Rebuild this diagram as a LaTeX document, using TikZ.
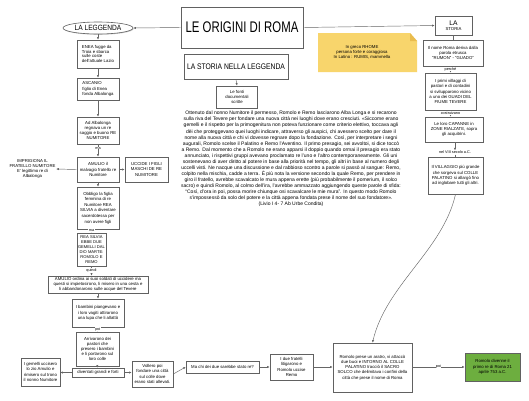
\documentclass[tikz,border=0pt]{standalone}
\usepackage{fontspec}
\setmainfont{Liberation Sans}
\usetikzlibrary{arrows.meta,shapes.geometric,shadows}
\newcommand\fsm{\fontsize{4.3}{5.2}\selectfont}
\newcommand\flb{\fontsize{3.8}{4.2}\selectfont}
\newcommand\flv{\fontsize{5.0}{6.07}\selectfont}
\definecolor{notey}{HTML}{F8D56C}
\definecolor{notefold}{HTML}{E9BC4E}
\definecolor{greenbox}{HTML}{6DAE3F}
\begin{document}
\begin{tikzpicture}[x=1pt,y=-1pt,
  bx/.style={draw=black!62, line width=0.6pt, fill=white, align=center, font=\fsm, inner sep=0.8pt,
    drop shadow={shadow xshift=0.7pt, shadow yshift=-0.7pt, fill=black!22, opacity=1}},
  sz/.style 2 args={minimum width=#1pt, minimum height=#2pt},
  conn/.style={draw=black!60, line width=0.45pt},
  arr/.style={conn, -{Latex[length=2.6pt,width=2.2pt]}},
  lbl/.style={fill=white, font=\flb, inner sep=0.4pt},
]
\fill[white] (0,0) rectangle (529,400);
\useasboundingbox (0,0) rectangle (529,400);

% ---------- top ----------
\node[bx, sz={122}{41}] (title) at (242,27.5) {\fontsize{11.4}{12}\selectfont\scalebox{1}[1.35]{LE ORIGINI DI ROMA}};
\node[bx, ellipse, sz={70}{12}, inner sep=0pt] (leg) at (98,28) {\fontsize{6.6}{7}\selectfont\scalebox{1}[1.15]{LA LEGGENDA}};
\node[bx, sz={37}{19}] (storia) at (453.5,25.5) {\fontsize{6.7}{7.6}\selectfont LA\\STORIA};
\draw[arr] (title.west) -- (leg.east);
\draw[arr] (title.east) -- (storia.west);

% ---------- note ----------
\fill[notey] (318,33) -- (410,33) -- (417,41) -- (417,72) -- (318,72) -- cycle;
\fill[notefold] (410,33) -- (410,41) -- (417,41) -- cycle;
\node[align=center, font=\fsm] (note) at (362,52) {In greco RHOME\\persona forte e coraggiosa\\In Latino : RUMIS, mammella};

% ---------- centre ----------
\node[bx, sz={104}{25}] (storleg) at (236,66.5) {\fontsize{6.75}{7}\selectfont\scalebox{1}[1.2]{LA STORIA NELLA LEGGENDA}};
\node[bx, sz={41}{22}] (fonti) at (237,97) {Le fonti\\documentali\\scritte};
\draw[arr] (storleg.south) -- (fonti.north);

\node[align=center, font=\flv, anchor=north, inner sep=0pt] (livio) at (291,111) {%
Ottenuto dal nonno Numitore il permesso, Romolo e Remo lasciarono Alba Longa e si recarono\\
sulla riva del Tevere per fondare una nuova città nei luoghi dove erano cresciuti. «Siccome erano\\
gemelli e il rispetto per la primogenitura non poteva funzionare come criterio elettivo, toccava agli\\
dèi che proteggevano quei luoghi indicare, attraverso gli auspici, chi avessero scelto per dare il\\
nome alla nuova città e chi vi dovesse regnare dopo la fondazione. Così, per interpretare i segni\\
augurali, Romolo scelse il Palatino e Remo l'Aventino. Il primo presagio, sei avvoltoi, si dice toccò\\
a Remo. Dal momento che a Romolo ne erano apparsi il doppio quando ormai il presagio era stato\\
annunciato, i rispettivi gruppi avevano proclamato re l'uno e l'altro contemporaneamente. Gli uni\\
sostenevano di aver diritto al potere in base alla priorità nel tempo, gli altri in base al numero degli\\
uccelli visti. Ne nacque una discussione e dal rabbioso scontro a parole si passò al sangue: Remo,\\
colpito nella mischia, cadde a terra. È più nota la versione secondo la quale Remo, per prendere in\\
giro il fratello, avrebbe scavalcato le mura appena erette (più probabilmente il pomerium, il solco\\
sacro) e quindi Romolo, al colmo dell'ira, l'avrebbe ammazzato aggiungendo queste parole di sfida:\\
“Così, d'ora in poi, possa morire chiunque osi scavalcare le mie mura”. In questo modo Romolo\\
s'impossessò da solo del potere e la città appena fondata prese il nome del suo fondatore».\\
(Livio I 4- 7 Ab Urbe Condita)};

% ---------- left column ----------
\node[bx, sz={42}{28}, align=left, font=\fontsize{4.3}{4.8}\selectfont] (enea) at (98,54) {ENEA fugge da\\Troia e sbarca\\sulle coste\\dell'attuale Lazio};
\node[bx, sz={42}{22}, align=left] (ascanio) at (98,89) {ASCANIO\\figlio di Enea\\fonda Albalonga};
\node[bx, sz={42}{27}] (alba) at (98,130.5) {Ad Albalonga\\regnava un re\\saggio e buono RE\\NUMITORE};
\node[bx, sz={42}{25}] (amulio) at (98,169.5) {AMULIO il\\malvagio fratello re\\Numitore};
\node[align=center, font=\fsm, inner sep=0.5pt] (imprig) at (32.5,169) {IMPRIGIONA IL\\FRATELLO NUMITORE\\E' legittimo re di\\Albalonga};
\node[bx, sz={43}{25}] (uccide) at (146.5,169.5) {UCCIDE I FIGLI\\MASCHI DE RE\\NUMITORE};
\node[bx, sz={42}{42}, font=\fontsize{4.3}{5.6}\selectfont] (obbligo) at (98,208) {Obbligo la figlia\\femmina di re\\Numitore REA\\SILVIA a diventare\\sacerdotessa per\\non avere figli};
\node[bx, sz={29}{33}, font=\fontsize{4.1}{5}\selectfont] (rea) at (91.5,249.5) {REA SILVIA\\EBBE DUE\\GEMELLI DAL\\DIO MARTE:\\ROMOLO E\\REMO};
\node[bx, sz={100}{17}] (amord) at (98,284.5) {AMULIO ordina ai suoi soldati di uccidere ma\\questi si impietosirono, li misero in una cesta e\\li abbandonarono sulle acque del Tevere};
\node[bx, sz={52}{28}] (bambini) at (98,313) {I bambini piangevano e\\i loro vagiti attirarono\\una lupa che li allattò};
\node[bx, sz={43}{34}] (arriv) at (97.5,349) {Arrivarono dei\\pastori che\\presero i bambini\\e li portarono sul\\loro colle};
\node[bx, sz={52}{9}] (diven) at (98,372.5) {diventati grandi e forti};
\node[bx, sz={39}{28}] (gemelli) at (40.5,372) {I gemelli uccisero\\lo zio Amulio e\\rimisero sul trono\\il nonno Numitore};
\node[bx, sz={41}{26}] (vollero) at (152.5,374) {Vollero poi\\fondare una città\\sul colle dove\\erano stati allevati.};

\draw[arr] (leg.south) -- (enea.north);
\draw[arr] (enea.south) -- (ascanio.north);
\draw[arr] (ascanio.south) -- (alba.north);
\draw[arr] (alba.south) -- node[lbl, pos=0.3] {ma} (amulio.north);
\draw[arr] (amulio.west) -- (imprig.east);
\draw[arr] (amulio.east) -- (uccide.west);
\draw[arr] (amulio.south) -- (obbligo.north);
\draw[arr] (rea.north |- obbligo.south) -- node[lbl, pos=0.35] {ma} (rea.north);
\draw[arr] (rea.south) -- node[lbl, pos=0.45] {quindi} (rea.south |- amord.north);
\draw[arr] (amord.south) -- (bambini.north);
\draw[arr] (bambini.south) -- node[lbl, pos=0.4] {poi} (arriv.north);
\draw[arr] (arriv.south) -- (diven.north);
\draw[arr] (diven.west) -- (gemelli.east |- diven.west);
\draw[arr] (diven.east) -- (vollero.west |- diven.east);

% ---------- bottom row ----------
\node[bx, sz={73}{12}] (machi) at (222.5,367) {Ma chi dei due sarebbe stato re?};
\node[bx, sz={43}{26}] (litig) at (291.5,367) {I due fratelli\\litigarono e\\Romolo uccise\\Remo};
\node[bx, sz={79}{49}] (aratro) at (372.5,367.5) {Romolo prese un aratro, vi attaccò\\due buoi e INTORNO AL COLLE\\PALATINO tracciò il SACRO\\SOLCO che delimitava i confini della\\città che prese il nome di Roma};
\node[bx, sz={55}{28}, fill=greenbox] (green) at (492.5,367) {Romolo divenne il\\primo re di Roma 21\\aprile 753 a.C.};
\draw[arr] (vollero.east) -- (machi.west);
\draw[arr] (machi.east) -- (litig.west);
\draw[arr] (litig.east) -- (aratro.west |- litig.east);
\draw[arr] (aratro.east |- green.west) -- node[lbl] {poi} (green.west);

% ---------- right column ----------
\node[bx, sz={60}{26}] (nome) at (453,53) {Il nome Roma deriva dalla\\parola etrusca\\“RUMON” - “GUADO”};
\node[bx, sz={51}{37}] (primi) at (450.5,91.5) {I primi villaggi di\\pastori e di contadini\\si svilupparono vicino\\a uno dei GUADI DEL\\FIUME TEVERE};
\node[bx, sz={58}{25}] (capanne) at (454,129.5) {Le loro CAPANNE in\\ZONE RIALZATE, sopra\\gli acquitrini.};
\node[lbl] (sec) at (455,152.5) {nel VIII secolo a.C.};
\node[bx, sz={55}{37}] (villag) at (455.5,175.5) {Il VILLAGGIO più grande\\che sorgeva sul COLLE\\PALATINO si allargò fino\\ad inglobare tutti gli altri.};
\draw[conn] (storia.south) -- (storia.south |- nome.north);
\draw[arr] (nome.south -| primi.north) -- node[lbl, pos=0.45] {perché} (primi.north);
\draw[arr] (primi.south) -- node[lbl, pos=0.45] {costruivano} (primi.south |- capanne.north);
\draw[arr] (capanne.south -| sec.north) -- (sec.north);
\draw[conn] (sec.south) -- (sec.south |- villag.north);
\draw[arr] (villag.south) .. controls (443,250) and (386,285) .. (aratro.north);
\end{tikzpicture}
\end{document}
